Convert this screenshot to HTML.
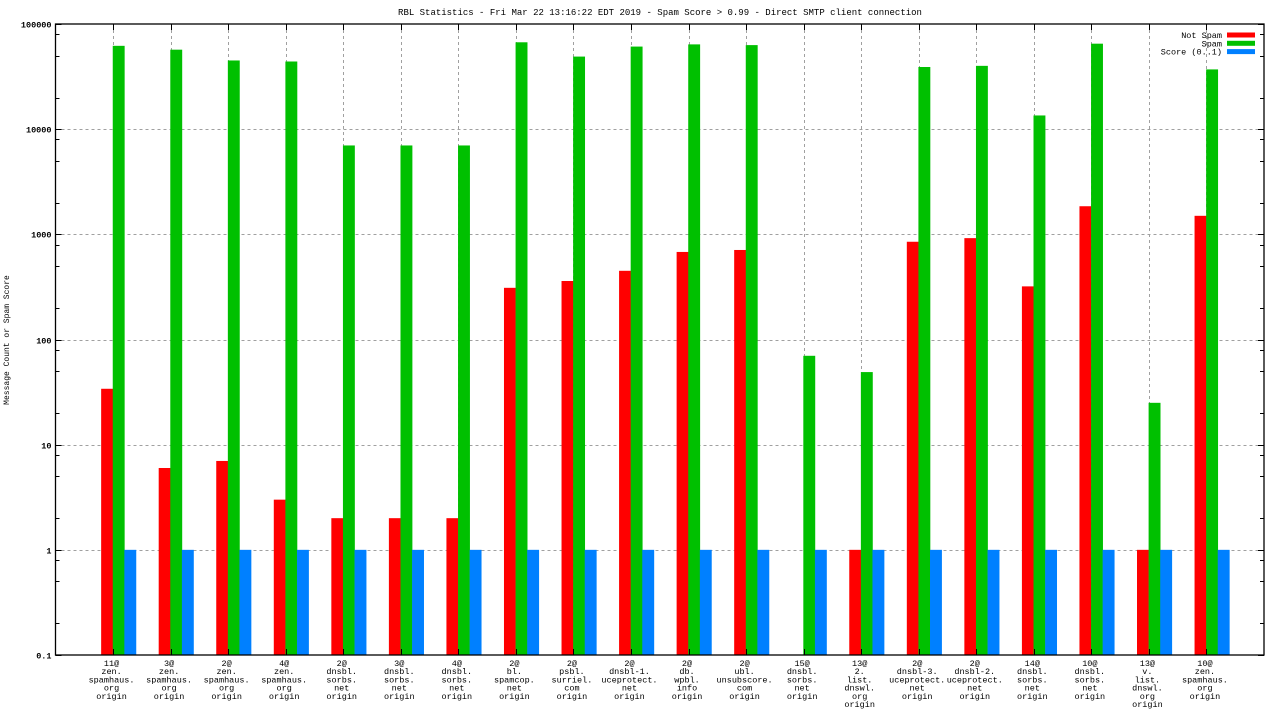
<!DOCTYPE html>
<html><head><meta charset="utf-8"><style>
html,body{margin:0;padding:0;background:#fff;}
svg{display:block;font-family:"Liberation Mono","DejaVu Sans Mono",monospace;}
</style></head><body>
<svg id="chart" width="1280" height="720" viewBox="0 0 1280 720" xmlns="http://www.w3.org/2000/svg">
<text x="660" y="15" font-size="9" text-anchor="middle">RBL Statistics - Fri Mar 22 13:16:22 EDT 2019 - Spam Score &gt; 0.99 - Direct SMTP client connection</text>
<text transform="translate(9,340) rotate(-90)" font-size="8" text-anchor="middle">Message Count or Spam Score</text>
<g id="grid"></g><g id="bars"></g><g id="axes"></g><g id="legend"></g>
</svg>
<script>
const categories=[["11@","zen.","spamhaus.","org","origin"],["3@","zen.","spamhaus.","org","origin"],["2@","zen.","spamhaus.","org","origin"],["4@","zen.","spamhaus.","org","origin"],["2@","dnsbl.","sorbs.","net","origin"],["3@","dnsbl.","sorbs.","net","origin"],["4@","dnsbl.","sorbs.","net","origin"],["2@","bl.","spamcop.","net","origin"],["2@","psbl.","surriel.","com","origin"],["2@","dnsbl-1.","uceprotect.","net","origin"],["2@","db.","wpbl.","info","origin"],["2@","ubl.","unsubscore.","com","origin"],["15@","dnsbl.","sorbs.","net","origin"],["13@","2.","list.","dnswl.","org","origin"],["2@","dnsbl-3.","uceprotect.","net","origin"],["2@","dnsbl-2.","uceprotect.","net","origin"],["14@","dnsbl.","sorbs.","net","origin"],["10@","dnsbl.","sorbs.","net","origin"],["13@","v.","list.","dnswl.","org","origin"],["10@","zen.","spamhaus.","org","origin"]];
const notSpam=[34,6,7,3,2,2,2,310,360,450,680,710,0,1,850,920,320,1850,1,1500];
const spam=[62000,57000,45000,44000,7000,7000,7000,67000,49000,61000,64000,63000,70,49,39000,40000,13500,65000,25,37000];
const score=[1,1,1,1,1,1,1,1,1,1,1,1,1,1,1,1,1,1,1,1];
const yTicks=[100000,10000,1000,100,10,1,0.1];
const yTickLabels=["100000","10000","1000","100","10","1","0.1"];
const seriesNames=["Not Spam","Spam","Score (0..1)"];

const NS="http://www.w3.org/2000/svg";
const L=55.5,R=1264,T=24,B=655,BW=11.6;
const step=(R-L)/(categories.length+1);
function xc(i){return L+step*(i+1);}
function y(v){return T+(5-Math.log10(v))*(B-T)/6;}
function mk(tag,attrs,parent){const e=document.createElementNS(NS,tag);for(const k in attrs)e.setAttribute(k,attrs[k]);parent.appendChild(e);return e;}
const grid=document.getElementById('grid'),bars=document.getElementById('bars'),axes=document.getElementById('axes'),legend=document.getElementById('legend');
yTicks.forEach((v,k)=>{
  const yy=Math.round(y(v))+0.5;
  if(v<100000&&v>0.1){const g=mk('line',{x1:L,x2:R,y1:yy,y2:yy,stroke:'#a0a0a0','stroke-dasharray':'3,3','stroke-width':1},grid);
  
  }
  const t=mk('text',{x:L-4,y:yy+3,'font-size':8.5,'text-anchor':'end','font-weight':'bold'},axes);
  t.textContent=yTickLabels[k];
  
  
  mk('line',{x1:L,x2:L+6,y1:yy,y2:yy,stroke:'#000'},axes);
  mk('line',{x1:R,x2:R-6,y1:yy,y2:yy,stroke:'#000'},axes);
  if(v>0.1){[2,5,8].forEach(m=>{const my=Math.round(y(v/10*m))+0.5;mk('line',{x1:L,x2:L+4,y1:my,y2:my,stroke:'#000'},axes);mk('line',{x1:R,x2:R-4,y1:my,y2:my,stroke:'#000'},axes);});}
});
const colors=['#ff0000','#00c000','#0080ff'];
const series=[notSpam,spam,score];
categories.forEach((c,i)=>{
  const x=Math.round(xc(i))+0.5;
  const g=mk('line',{x1:x,x2:x,y1:T,y2:B,stroke:'#a0a0a0','stroke-dasharray':'3,3'},grid);
  
  
  mk('line',{x1:x,x2:x,y1:T,y2:T+6,stroke:'#000'},axes);
  mk('line',{x1:x,x2:x,y1:B,y2:B-6,stroke:'#000'},axes);
  series.forEach((s,j)=>{
    if(s[i]<=0)return;
    const x0=xc(i)+(j-1)*BW-0.3;
    const top=y(s[i]);
    const r=mk('rect',{x:x0,y:top,width:BW+0.3,height:B-top,fill:colors[j]},bars);
    
    
  });
  const lx=xc(i)-1.5;
  const t=mk('text',{x:lx,y:B+11,'font-size':8.5,'text-anchor':'middle'},axes);
  
  
  c.forEach((ln,k)=>{const ts=mk('tspan',{x:lx,dy:k?8.2:0},t);ts.textContent=ln;});
});
const fr=mk('rect',{x:L,y:T,width:R-L,height:B-T,fill:'none',stroke:'#000','stroke-width':1.3},axes);


seriesNames.forEach((n,j)=>{
  const ly=35+j*8.3;
  const t=mk('text',{x:1222,y:ly+3,'font-size':8.5,'text-anchor':'end'},legend);
  t.textContent=n;
  
  
  mk('rect',{x:1227,y:ly-2.5,width:28,height:5,fill:colors[j]},legend);
});
</script>
</body></html>
